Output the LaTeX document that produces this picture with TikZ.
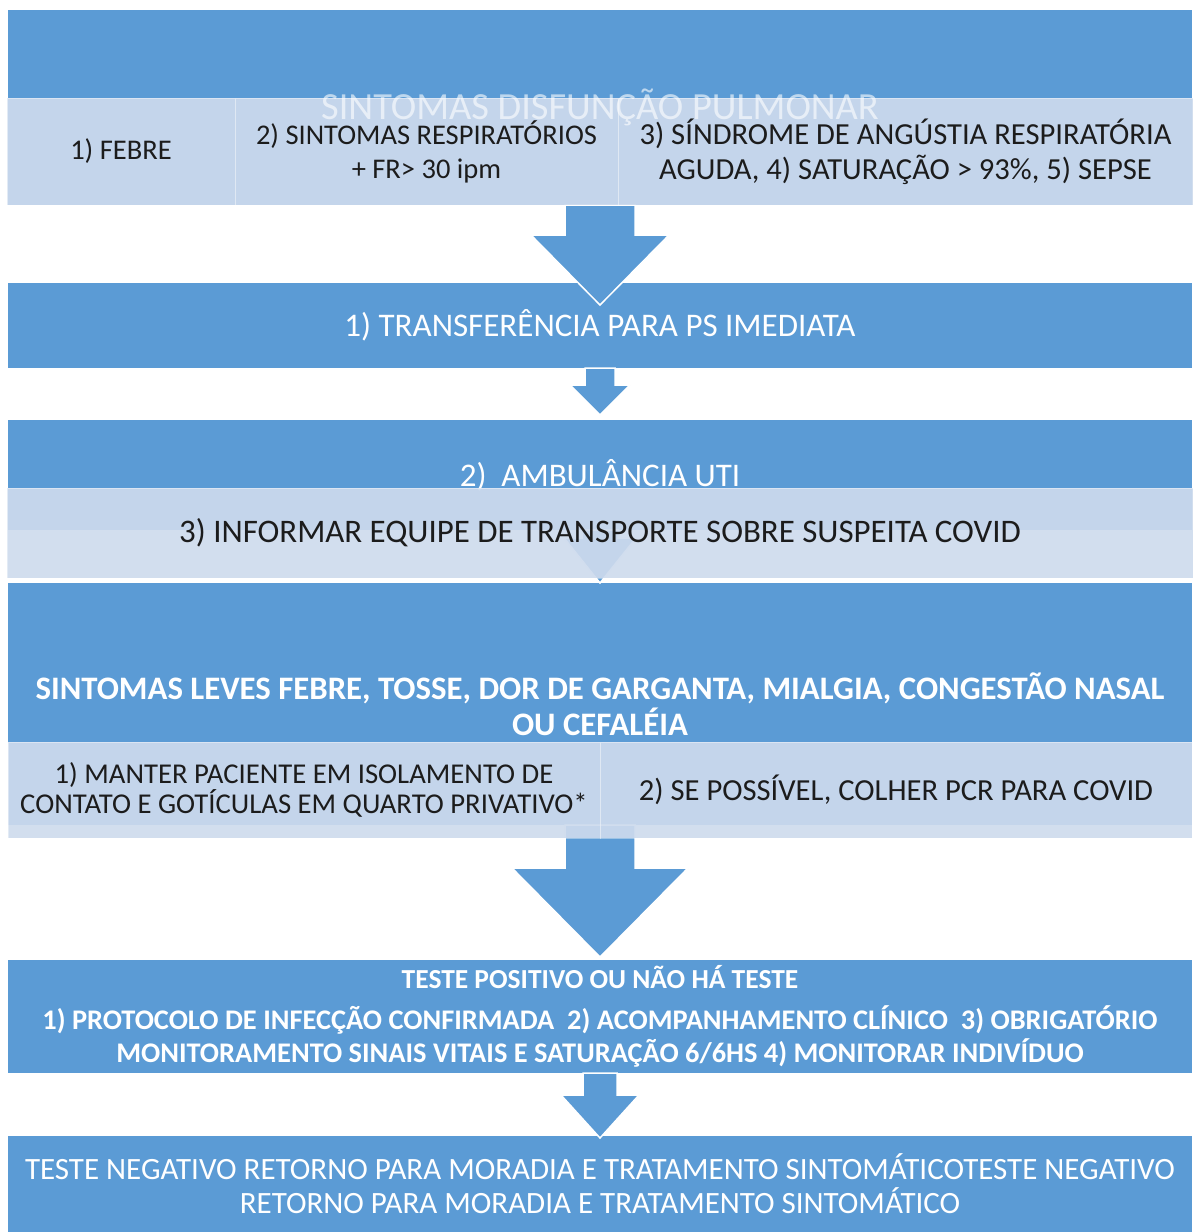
\documentclass[tikz,border=0pt]{standalone}
\usepackage{fontspec}
\setmainfont{Carlito}
\usetikzlibrary{positioning, calc}
\definecolor{flowblue}{RGB}{91, 155, 213}
\definecolor{flowlight}{RGB}{206, 219, 237}
\definecolor{flowtext}{RGB}{28, 28, 28}
\tikzset{
  darkbox/.style={fill=flowblue, minimum width=1184pt, inner sep=0pt, outer sep=0pt, align=center, text=white, font=\fontsize{33}{36}\selectfont},
  cell/.style={fill=flowlight, fill opacity=0.92, text opacity=1, draw=white, draw opacity=0.4, line width=1pt, inner sep=0pt, outer sep=0pt, align=center, text=flowtext, font=\fontsize{28.5}{34}\selectfont},
  flow/.style={fill=flowblue, draw=white, line width=1.5pt}
}
\newcommand{\blockarrow}[5]{%
  \draw[flow] ($(#1.south)+(-#3,0)$) -- ($(#2)+(-#3,#5)$) -- ($(#2)+(-#4,#5)$) -- (#2)
    -- ($(#2)+(#4,#5)$) -- ($(#2)+(#3,#5)$) -- ($(#1.south)+(#3,0)$) -- cycle;}

\begin{document}
\begin{tikzpicture}[x=1pt, y=1pt]
  \useasboundingbox (0,0) rectangle (1195,-1232);
  \node[darkbox, minimum height=195pt, anchor=north west] (sym) at (8,-10) {};
  \node[darkbox, minimum height=85pt, below=78pt of sym] (ps) {1) TRANSFERÊNCIA PARA PS IMEDIATA};
  \node[darkbox, minimum height=110pt, below=52pt of ps] (amb) {2)\ \ AMBULÂNCIA UTI};
  \node[darkbox, minimum height=242pt, below=53pt of amb, font=\bfseries\fontsize{32.8}{36}\selectfont] (leves) {SINTOMAS LEVES FEBRE, TOSSE, DOR DE GARGANTA, MIALGIA, CONGESTÃO NASAL\\OU CEFALÉIA};
  \node[darkbox, minimum height=113pt, below=135pt of leves, font=\bfseries\fontsize{28.4}{33}\selectfont] (pos) {{\fontsize{27.5}{33}\selectfont TESTE POSITIVO OU NÃO HÁ TESTE}\\[8pt]1) PROTOCOLO DE INFECÇÃO CONFIRMADA\ \ 2) ACOMPANHAMENTO CLÍNICO\ \ 3) OBRIGATÓRIO\\MONITORAMENTO SINAIS VITAIS E SATURAÇÃO 6/6HS 4) MONITORAR INDIVÍDUO};
  \node[darkbox, minimum height=96pt, below=63pt of pos, font=\fontsize{31}{34}\selectfont] (neg) {TESTE NEGATIVO RETORNO PARA MORADIA E TRATAMENTO SINTOMÁTICOTESTE NEGATIVO\\RETORNO PARA MORADIA E TRATAMENTO SINTOMÁTICO};

  \coordinate (tip1) at ($(ps.north)+(0,-22)$);
  \coordinate (tip2) at ($(amb.north)+(0,5)$);
  \coordinate (tip3) at (leves.north);
  \coordinate (tip4) at ($(pos.north)+(0,3)$);
  \coordinate (tip5) at ($(neg.north)+(0,-2)$);
  \blockarrow{sym}{tip1}{35}{69}{70}
  \blockarrow{ps}{tip2}{15}{30}{30}
  \blockarrow{amb}{tip3}{18}{36}{45}
  \blockarrow{leves}{tip4}{35}{88}{89}
  \blockarrow{pos}{tip5}{17}{39}{43}

  \node[cell, minimum width=228pt, minimum height=107pt, anchor=south west] (febre) at ($(sym.south west)+(-1,0)$) {1) FEBRE};
  \node[cell, minimum width=383pt, minimum height=107pt, right=0pt of febre] (resp) {2) SINTOMAS RESPIRATÓRIOS\\+ FR> 30 ipm};
  \node[cell, minimum width=575pt, minimum height=107pt, right=0pt of resp, font=\fontsize{30.6}{35}\selectfont] (sdra) {3) SÍNDROME DE ANGÚSTIA RESPIRATÓRIA\\AGUDA, 4) SATURAÇÃO > 93\%, 5) SEPSE};
  \node[cell, minimum width=1186pt, minimum height=90pt, anchor=north west, font=\fontsize{32.9}{36}\selectfont] (inform) at ($(amb.south west)+(-1,42)$) {3) INFORMAR EQUIPE DE TRANSPORTE SOBRE SUSPEITA COVID};
  \node[cell, minimum width=592pt, minimum height=96pt, anchor=north west, font=\fontsize{28.7}{30}\selectfont] (isol) at ($(leves.south west)+(0,83)$) {1) MANTER PACIENTE EM ISOLAMENTO DE\\CONTATO E GOTÍCULAS EM QUARTO PRIVATIVO*};
  \node[cell, minimum width=592pt, minimum height=96pt, right=0pt of isol, font=\fontsize{30.6}{32}\selectfont] (pcr) {2) SE POSSÍVEL, COLHER PCR PARA COVID};
  \node[font=\fontsize{38.4}{40}\selectfont, text=white, text opacity=0.6] (title) at (sym.center) {SINTOMAS DISFUNÇÃO PULMONAR};
\end{tikzpicture}
\end{document}
